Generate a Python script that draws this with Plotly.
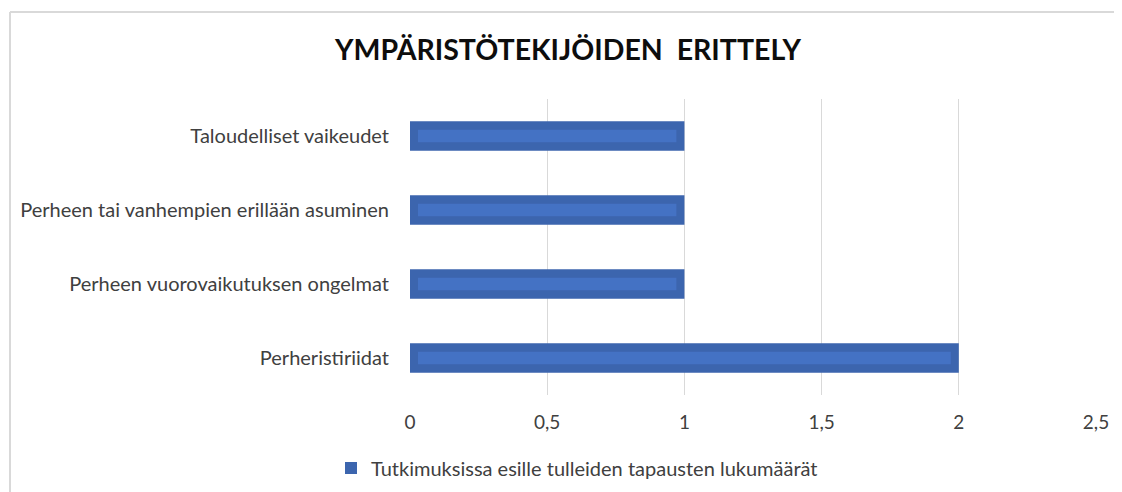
import plotly.graph_objects as go

categories = ["Perheristiriidat", "Perheen vuorovaikutuksen ongelmat",
              "Perheen tai vanhempien erillään asuminen", "Taloudelliset vaikeudet"]
values = [2, 1, 1, 1]
series_name = "Tutkimuksissa esille tulleiden tapausten lukumäärät"
tick_vals = [0, 0.5, 1, 1.5, 2, 2.5]
tick_text = ["0", "0,5", "1", "1,5", "2", "2,5"]
title_text = "YMPÄRISTÖTEKIJÖIDEN  ERITTELY"

OFF = 8  # page body margin
W, H = 1122 - OFF, 492 - OFF
L, T = 410 - OFF, 99 - OFF
R = W - (1096 - OFF)
B = H - (395 - OFF)
xmax = 2.5
pw = W - L - R
ph = H - T - B
inset = 8 * xmax / pw  # glow inset in data units

fig = go.Figure()
fig.add_trace(go.Bar(
    y=categories, x=values, orientation="h", name=series_name,
    marker=dict(color="#3C65AE", line=dict(width=0)), width=0.4,
))
fig.add_trace(go.Bar(
    y=categories, x=[v - 2 * inset for v in values], base=inset,
    orientation="h", showlegend=False, hoverinfo="skip",
    marker=dict(color="#4472C4", line=dict(width=0)), width=0.17,
))

def px_x(p):
    return (p - OFF - L) / pw

def px_y(p):
    return (H - B - (p - OFF)) / ph

FONT = "Lato, 'Open Sans', sans-serif"
fig.update_layout(
    width=W, height=H,
    margin=dict(l=L, r=R, t=T, b=B, autoexpand=False),
    paper_bgcolor="white", plot_bgcolor="white",
    barmode="overlay",
    font=dict(family=FONT, color="#404040", size=20),
    title=dict(text=title_text, x=(568 - OFF) / W, xanchor="center", xref="container",
               y=1 - (50 - OFF) / H, yanchor="middle",
               font=dict(family=FONT, size=28.5, color="#0d0d0d", weight="bold")),
    xaxis=dict(range=[0, xmax], tickvals=tick_vals, ticktext=tick_text,
               showgrid=True, gridcolor="#d9d9d9", gridwidth=1, zeroline=False,
               showline=False, ticks="", ticklabelstandoff=14, fixedrange=True,
               tickfont=dict(size=19), automargin=False),
    yaxis=dict(showgrid=False, zeroline=False, showline=False, ticks="",
               ticklabelstandoff=20, fixedrange=True, automargin=False),
    legend=dict(orientation="h", x=px_x(577), xanchor="center", y=px_y(468), yanchor="middle",
                font=dict(size=20, color="#404040"), itemwidth=30),
    shapes=[
        dict(type="line", xref="paper", yref="paper", x0=px_x(10), x1=px_x(1130),
             y0=px_y(12), y1=px_y(12), line=dict(color="#d9d9d9", width=2)),
        dict(type="line", xref="paper", yref="paper", x0=px_x(10), x1=px_x(10),
             y0=px_y(12), y1=px_y(500), line=dict(color="#d9d9d9", width=2)),
    ],
)

fig.write_html("out.html")
